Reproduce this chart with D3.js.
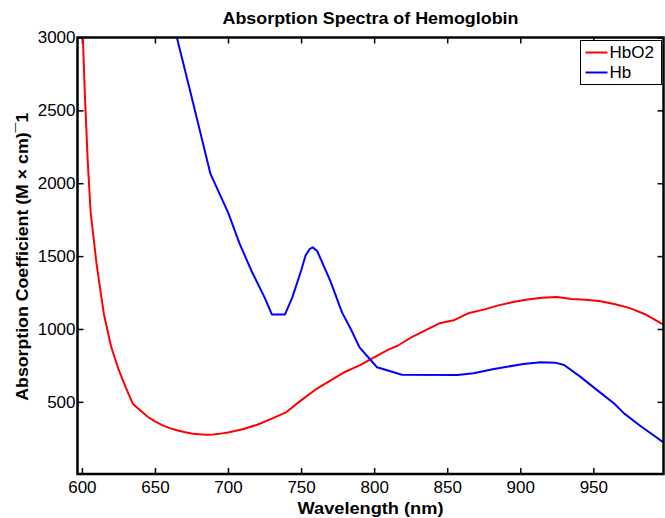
<!DOCTYPE html>
<html>
<head>
<meta charset="UTF-8">
<title>Absorption Spectra of Hemoglobin</title>
<script src="https://cdn.jsdelivr.net/npm/d3@7"></script>
<style>
    body{margin:0;background:#fff;}
    text{font-family:"Liberation Sans",Arial,Helvetica,sans-serif;fill:#000;}
    .tick text{font-size:17px;}
    .tick line{stroke:#000;stroke-width:1.5px;}
    .curve{fill:none;stroke-width:2px;stroke-linejoin:round;}
</style>
</head>
<body>
<div id="chart"></div>
<script>
    // values
    var hbo2Wave=[600,602,604,606,610,615,620,625,630,635,640,645,650,655,660,665,670,675,680,685,690,695,700,710,720,730,740,750,760,770,780,790,800,810,816,825,835,845,855,865,875,885,895,905,915,925,935,945,955,965,975,985,998];
    var hbo2Val=[3200,2620,2150,1800,1450,1105,880,725,600,485,440,398,366,340,320,305,293,283,278,274,276,282,290,312,343,385,430,510,585,645,705,750,805,860,885,940,990,1040,1062,1110,1133,1162,1185,1202,1214,1220,1206,1201,1190,1170,1143,1103,1030];
    var hbWave=[650,660,665,674,688,700,708,716,725,730,739,744,750,753,756,758,761,770,778,784,790,797,802,819,857,868,882,902,914,924,930,941,953,964,971,982,998];
    var hbVal=[3750,3250,3000,2636,2064,1800,1584,1400,1217,1100,1100,1217,1400,1503,1550,1560,1535,1330,1114,1000,874,794,737,686,684,696,725,760,771,769,753,673,577,490,421,336,222];
    var xTicks=[600,650,700,750,800,850,900,950];
    var yTicks=[500,1000,1500,2000,2500,3000];
    var seriesNames=['HbO2','Hb'];
    var seriesColors=['#ff0000','#0000ff'];

    var width=665,height=518;
    var margin={left:77.5,right:1.5,top:37.5,bottom:44};
    var pw=width-margin.left-margin.right,ph=height-margin.top-margin.bottom;

    var svg=d3.select('#chart').append('svg')
            .attr('width',width)
            .attr('height',height);
    var g=svg.append('g').attr('transform','translate('+margin.left+','+margin.top+')');

    var x=d3.scaleLinear().domain([597,998]).range([0,pw]);
    var y=d3.scaleLinear().domain([5,3000]).range([ph,0]);

    svg.append('defs').append('clipPath').attr('id','clip')
            .append('rect').attr('width',pw).attr('height',ph);

    // axes, ticks pointing inward on all four sides
    var fmt=d3.format('d');
    g.append('g').attr('transform','translate(0,'+ph+')')
            .call(d3.axisBottom(x).tickValues(xTicks).tickFormat(fmt).tickSizeInner(-6).tickSizeOuter(0).tickPadding(7));
    g.append('g')
            .call(d3.axisTop(x).tickValues(xTicks).tickSizeInner(-6).tickSizeOuter(0).tickFormat(''));
    g.append('g')
            .call(d3.axisLeft(y).tickValues(yTicks).tickFormat(fmt).tickSizeInner(-6).tickSizeOuter(0).tickPadding(2));
    g.append('g').attr('transform','translate('+pw+',0)')
            .call(d3.axisRight(y).tickValues(yTicks).tickSizeInner(-6).tickSizeOuter(0).tickFormat(''));
    g.selectAll('.domain').remove();

    var line=d3.line()
            .x(function(d){return x(d[0]);})
            .y(function(d){return y(d[1]);});
    var series=[d3.zip(hbo2Wave,hbo2Val),d3.zip(hbWave,hbVal)];
    g.append('g').attr('clip-path','url(#clip)')
            .selectAll('path')
            .data(series)
            .enter()
            .append('path')
            .attr('class','curve')
            .attr('d',line)
            .style('stroke',function(d,i){return seriesColors[i];});

    g.append('rect')
            .attr('width',pw)
            .attr('height',ph)
            .attr('fill','none')
            .attr('stroke','#000')
            .attr('stroke-width',2.5);

    // legend
    var lg=g.append('g').attr('transform','translate('+(pw-83)+',3)');
    lg.append('rect')
            .attr('width',81)
            .attr('height',44)
            .attr('fill','#fff')
            .attr('stroke','#000')
            .attr('stroke-width',1);
    var item=lg.selectAll('.item')
            .data(seriesNames)
            .enter()
            .append('g')
            .attr('transform',function(d,i){return 'translate(0,'+(12+i*20)+')';});
    item.append('line')
            .attr('x1',5).attr('x2',27)
            .attr('stroke',function(d,i){return seriesColors[i];})
            .attr('stroke-width',2);
    item.append('text')
            .attr('x',29)
            .attr('dy','0.35em')
            .style('font-size','17px')
            .text(function(d){return d;});

    // titles
    svg.append('text')
            .attr('x',margin.left+pw/2)
            .attr('y',24)
            .attr('text-anchor','middle')
            .attr('textLength',296)
            .attr('lengthAdjust','spacingAndGlyphs')
            .style('font-size','17px')
            .style('font-weight','bold')
            .text('Absorption Spectra of Hemoglobin');
    svg.append('text')
            .attr('x',margin.left+pw/2)
            .attr('y',514)
            .attr('text-anchor','middle')
            .attr('textLength',146)
            .attr('lengthAdjust','spacingAndGlyphs')
            .style('font-size','17px')
            .style('font-weight','bold')
            .text('Wavelength (nm)');
    svg.append('text')
            .attr('transform','translate(28,'+(margin.top+ph/2+1)+') rotate(-90)')
            .attr('text-anchor','middle')
            .attr('textLength',288)
            .attr('lengthAdjust','spacingAndGlyphs')
            .style('font-size','17px')
            .style('font-weight','bold')
            .text('Absorption Coefficient (M \u00d7 cm)\u00af1');
</script>
</body>
</html>
